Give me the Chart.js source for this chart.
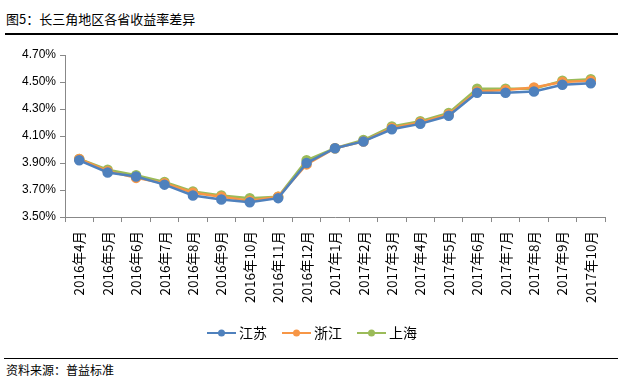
<!DOCTYPE html>
<html>
<head>
<meta charset="utf-8">
<script src="https://cdn.jsdelivr.net/npm/chart.js@4.4.0/dist/chart.umd.min.js"></script>
<style>
  html, body { margin: 0; padding: 0; background: #fff; }
  body { width: 630px; height: 391px; position: relative; overflow: hidden;
         font-family: "Noto Sans CJK SC", "Microsoft YaHei", sans-serif; }
  #title { position: absolute; left: 6px; top: 9px; font-size: 13px; color: #000; }
  #rule1 { position: absolute; left: 5px; top: 33px; width: 613px; height: 0; border-top: 2px solid #000; }
  #wrap { position: absolute; left: 0; top: 38px; width: 630px; height: 312px; }
  #rule2 { position: absolute; left: 4px; top: 358px; width: 614px; height: 0; border-top: 1px solid #000; }
  #src { position: absolute; left: 6px; top: 361px; font-size: 12px; color: #000; }
</style>
</head>
<body>
<div id="title">图5：长三角地区各省收益率差异</div>
<div id="rule1"></div>
<div id="wrap"><canvas id="c"></canvas></div>
<div id="rule2"></div>
<div id="src">资料来源：普益标准</div>
<script>
// ---------- Data ----------
const months = ['2016年4月', '2016年5月', '2016年6月', '2016年7月', '2016年8月', '2016年9月',
  '2016年10月', '2016年11月', '2016年12月', '2017年1月', '2017年2月', '2017年3月', '2017年4月',
  '2017年5月', '2017年6月', '2017年7月', '2017年8月', '2017年9月', '2017年10月'];

const jiangsu  = [3.92, 3.83, 3.80, 3.74, 3.66, 3.63, 3.61, 3.64, 3.90, 4.01, 4.06, 4.15, 4.19, 4.25, 4.42, 4.42, 4.43, 4.48, 4.49];
const zhejiang = [3.93, 3.84, 3.79, 3.75, 3.68, 3.65, 3.62, 3.65, 3.89, 4.01, 4.06, 4.16, 4.20, 4.26, 4.43, 4.44, 4.46, 4.50, 4.51];
const shanghai = [3.93, 3.85, 3.81, 3.76, 3.69, 3.66, 3.64, 3.65, 3.92, 4.01, 4.07, 4.17, 4.21, 4.27, 4.45, 4.45, 4.45, 4.51, 4.52];

const yTicks = [3.5, 3.7, 3.9, 4.1, 4.3, 4.5, 4.7];

// legend marker: short line with a dot; image is a bit wider than the legend box
function marker(color) {
    const cv = document.createElement('canvas');
    cv.width = 34; cv.height = 10;
    const g = cv.getContext('2d');
    g.strokeStyle = color; g.lineWidth = 2;
    g.beginPath(); g.moveTo(5, 5); g.lineTo(34, 5); g.stroke();
    g.fillStyle = color;
    g.beginPath(); g.arc(19.5, 5, 3.5, 0, Math.PI * 2); g.fill();
    return cv;
}

function series(label, data, color) {
    return {
        label, data,
        borderColor: color, backgroundColor: color,
        borderWidth: 2.5, pointRadius: 4, pointHoverRadius: 4,
        pointStyle: 'circle', tension: 0
    };
}

const tickFont = { family: '"Liberation Sans", Arial, sans-serif', size: 12 };

new Chart(document.getElementById('c'), {
    type: 'line',
    data: {
        labels: months,
        datasets: [
            series('江苏', jiangsu, '#4F81BD'),
            series('浙江', zhejiang, '#F79646'),
            series('上海', shanghai, '#9BBB59')
        ]
    },
    options: {
        responsive: true,
        maintainAspectRatio: false,
        animation: false,
        layout: { padding: { left: 18, right: 25, top: 17, bottom: 0 } },
        plugins: {
            tooltip: { enabled: false },
            legend: {
                position: 'bottom',
                labels: {
                    usePointStyle: true,
                    pointStyleWidth: 26,
                    generateLabels: (chart) => chart.data.datasets.map((d, i) => ({
                        text: d.label, pointStyle: marker(d.borderColor),
                        fontColor: '#000', datasetIndex: i, lineWidth: 0,
                        strokeStyle: 'transparent', fillStyle: 'transparent'
                    })),
                    padding: 14,
                    font: { family: '"Noto Sans CJK SC", sans-serif', size: 14 },
                    color: '#000'
                }
            }
        },
        scales: {
            x: {
                offset: true,
                grid: { display: true, drawOnChartArea: false, drawTicks: true, tickLength: 5, color: '#888', offset: true },
                border: { color: '#888' },
                ticks: { minRotation: 90, maxRotation: 90, autoSkip: false, color: '#000',
                         padding: 9, font: { family: '"Noto Sans CJK SC", sans-serif', size: 13.5 } }
            },
            y: {
                min: 3.5, max: 4.7,
                afterBuildTicks: (ax) => { ax.ticks = yTicks.map(v => ({ value: v })); },
                grid: { display: true, drawOnChartArea: false, drawTicks: true, tickLength: 5, color: '#888' },
                border: { color: '#888' },
                ticks: { color: '#000', padding: 4, font: tickFont,
                         callback: (v) => Number(v).toFixed(2) + '%' }
            }
        }
    }
});
</script>
</body>
</html>
